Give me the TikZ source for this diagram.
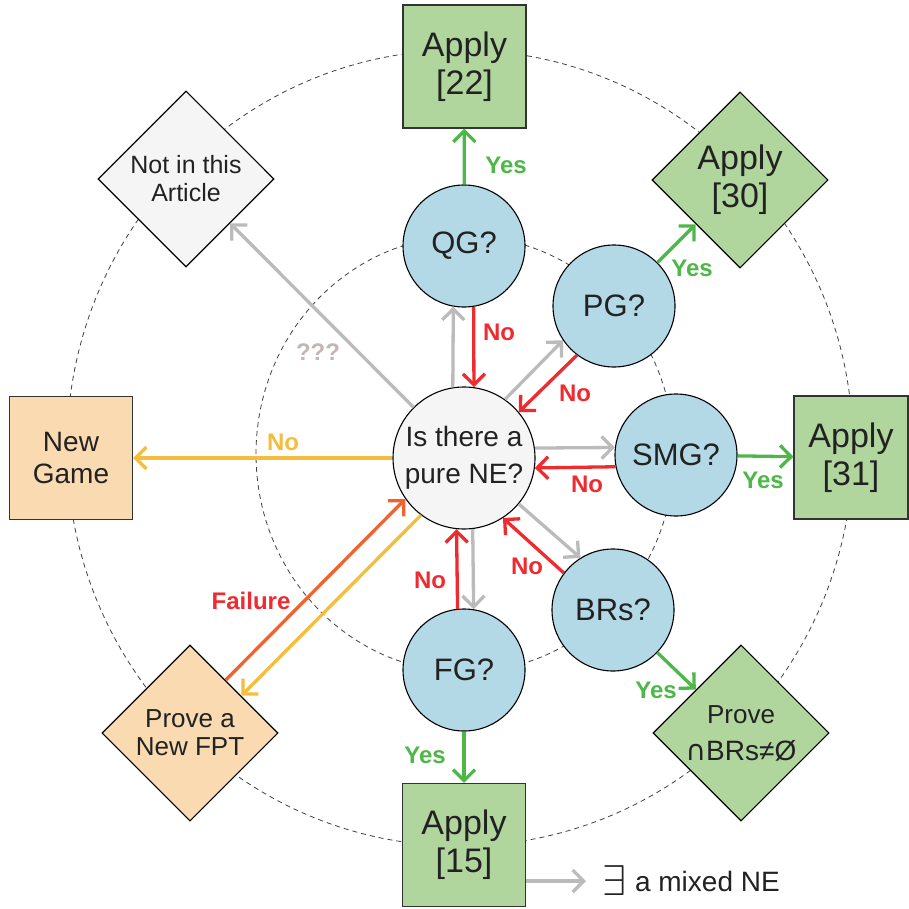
\documentclass[tikz,border=0pt]{standalone}
\usepackage{graphicx}
\usepackage{fontspec}
\setmainfont{Liberation Sans}
\newfontfamily\symfont{DejaVu Sans}
\usetikzlibrary{shapes.geometric,arrows.meta,calc}

\definecolor{cblue}{HTML}{B3D8E6}
\definecolor{cgreen}{HTML}{B0D69E}
\definecolor{corange}{HTML}{F9DAB1}
\definecolor{cwhite}{HTML}{F4F5F4}
\definecolor{agreen}{HTML}{4DB848}
\definecolor{ared}{HTML}{EE2B2F}
\definecolor{agrey}{HTML}{BBBBBB}
\definecolor{ayellow}{HTML}{F5BD3C}
\definecolor{afail}{HTML}{EE6430}
\definecolor{qmark}{HTML}{C4B6B6}
\definecolor{txt}{HTML}{222222}

\begin{document}
\begin{tikzpicture}[x=1pt,y=-1pt,
  every node/.style={text=txt},
  sat/.style={circle, draw=black, line width=1.1pt, fill=cblue, minimum size=122pt, inner sep=0pt, font=\fontsize{31}{34}\selectfont},
  hub/.style={circle, draw=black, line width=1.1pt, fill=cwhite, minimum size=142pt, inner sep=0pt, align=center, font=\fontsize{28}{37}\selectfont},
  sqbox/.style={rectangle, draw=black!80, line width=1.2pt, minimum size=123pt, inner sep=0pt, align=center, font=\fontsize{34}{38}\selectfont},
  dmd/.style={diamond, draw=black, line width=1.1pt, minimum size=176pt, inner sep=0pt, align=center},
  arr/.style={line width=3.3pt, -{Straight Barb[length=11pt,width=22pt]}},
  lbl/.style={font=\bfseries\fontsize{24}{26}\selectfont},
  ring/.style={dash pattern=on 5pt off 4pt, line width=0.8pt, black!75},
]
\useasboundingbox (0,0) rectangle (909,909);

% dashed rings
\draw[ring] (460,448) ellipse [x radius=393pt, y radius=398pt];
\draw[ring] (465,454) ellipse [x radius=209pt, y radius=218pt];

% nodes
\node[hub] (C) at (464,458) {Is there a\\pure NE?};
\node[sat] (QG) at (464,246) {QG?};
\node[sat] (PG) at (614,306) {PG?};
\node[sat] (SMG) at (676,455) {SMG?};
\node[sat] (BR) at (613,610) {BRs?};
\node[sat] (FG) at (464,670) {FG?};

\node[sqbox, fill=cgreen] (A22) at (464.5,66.5) {Apply\\{}[22]};
\node[dmd, fill=cgreen, font=\fontsize{34}{38}\selectfont] (A30) at (740,180) {Apply\\{}[30]};
\node[sqbox, fill=cgreen, minimum width=114pt] (A31) at (851,457.5) {Apply\\{}[31]};
\node[dmd, fill=cgreen, font=\fontsize{26}{37}\selectfont] (PR) at (741,733) {Prove\\{\fontsize{28}{37}\selectfont{\symfont ∩}BRs≠Ø}};
\node[sqbox, fill=cgreen] (A15) at (464,845) {Apply\\{}[15]};
\node[dmd, fill=corange, font=\fontsize{26}{28}\selectfont] (FPT) at (190,733) {Prove a\\New FPT};
\node[sqbox, fill=corange, font=\fontsize{28}{32}\selectfont] (NG) at (71,458) {New\\Game};
\node[dmd, fill=cwhite, font=\fontsize{25}{28}\selectfont] (NA) at (186,179) {Not in this\\Article};

\node[anchor=west, inner sep=0pt] (ex) at (602,881) {\raisebox{-4pt}{\scalebox{4.3}{$\exists$}}\hspace{9pt}{\fontsize{28}{30}\selectfont a mixed NE}};
\coordinate (exa) at (586,881);

% green yes arrows
\draw[arr, agreen] (QG) -- (A22);
\draw[arr, agreen] (PG) -- (A30);
\draw[arr, agreen] (SMG) -- (A31);
\draw[arr, agreen] (BR) -- (PR);
\draw[arr, agreen] (FG) -- (A15);

% hub out arrows
\draw[arr, agrey] (C) -- (NA);
\draw[arr, ayellow] (C) -- (NG);

% pairs
\draw[arr, agrey] (C.99) -- (QG.260);
\draw[arr, ared] (QG.279) -- (C.82);
\draw[arr, agrey] (C.55) -- (PG.214);
\draw[arr, ared] (PG.233) -- (C.40);
\draw[arr, agrey] (C.8) -- (SMG.173);
\draw[arr, ared] (SMG.191) -- (C.352);
\draw[arr, agrey] (C.320) -- (BR.122);
\draw[arr, ared] (BR.143) -- (C.303);
\draw[arr, ared] (FG.96) -- (C.264);
\draw[arr, agrey] (C.277) -- (FG.81);

% FPT
\draw[arr, afail] (FPT.56) -- (C.215);
\draw[arr, ayellow] (C.233) -- (FPT.36);

% mixed NE
\draw[arr, agrey] (A15.east |- exa) -- (exa);

% labels
\node[lbl, text=agreen] (y1) at (506,165) {Yes};
\node[lbl, text=agreen] (y2) at (692,268) {Yes};
\node[lbl, text=agreen] (y3) at (763,480) {Yes};
\node[lbl, text=agreen] (y4) at (656,690) {Yes};
\node[lbl, text=agreen] (y5) at (425,755) {Yes};
\node[lbl, text=ared] (n1) at (499,332) {No};
\node[lbl, text=ared] (n2) at (575,393) {No};
\node[lbl, text=ared] (n3) at (587,484) {No};
\node[lbl, text=ared] (n4) at (527,566) {No};
\node[lbl, text=ared] (n5) at (430,580) {No};
\node[lbl, text=ayellow] (n6) at (283,442) {No};
\node[lbl, text=ared] (fl) at (251,601) {Failure};
\node[lbl, text=qmark] (qm) at (318,352) {???};
\end{tikzpicture}
\end{document}
